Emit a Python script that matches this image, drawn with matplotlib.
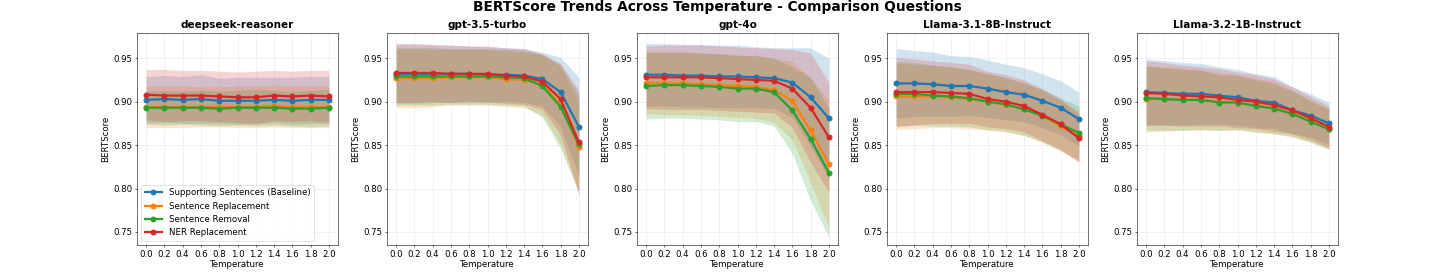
import numpy as np
import matplotlib
matplotlib.use("Agg")
import matplotlib.pyplot as plt

temps = [0.0, 0.2, 0.4, 0.6, 0.8, 1.0, 1.2, 1.4, 1.6, 1.8, 2.0]
models = ["deepseek-reasoner", "gpt-3.5-turbo", "gpt-4o",
          "Llama-3.1-8B-Instruct", "Llama-3.2-1B-Instruct"]
series = ["Supporting Sentences (Baseline)", "Sentence Replacement",
          "Sentence Removal", "NER Replacement"]
colors = ["#1f77b4", "#ff7f0e", "#2ca02c", "#d62728"]

# mean BERTScore per model -> per series
means = {
    "deepseek-reasoner": [
        [0.902, 0.903, 0.902, 0.903, 0.901, 0.901, 0.901, 0.902, 0.901, 0.902, 0.902],
        [0.894, 0.894, 0.894, 0.894, 0.894, 0.894, 0.894, 0.895, 0.894, 0.894, 0.894],
        [0.893, 0.893, 0.893, 0.893, 0.892, 0.893, 0.893, 0.893, 0.892, 0.892, 0.893],
        [0.908, 0.907, 0.907, 0.907, 0.906, 0.905, 0.905, 0.907, 0.906, 0.907, 0.906],
    ],
    "gpt-3.5-turbo": [
        [0.932, 0.932, 0.932, 0.932, 0.932, 0.931, 0.931, 0.930, 0.926, 0.911, 0.871],
        [0.927, 0.927, 0.927, 0.928, 0.928, 0.928, 0.926, 0.925, 0.920, 0.896, 0.848],
        [0.929, 0.929, 0.929, 0.929, 0.929, 0.929, 0.928, 0.927, 0.918, 0.894, 0.851],
        [0.933, 0.933, 0.933, 0.932, 0.932, 0.932, 0.930, 0.929, 0.923, 0.903, 0.853],
    ],
    "gpt-4o": [
        [0.931, 0.931, 0.930, 0.930, 0.929, 0.929, 0.928, 0.927, 0.922, 0.905, 0.881],
        [0.922, 0.921, 0.921, 0.920, 0.919, 0.918, 0.917, 0.913, 0.901, 0.867, 0.828],
        [0.918, 0.919, 0.919, 0.918, 0.917, 0.915, 0.915, 0.911, 0.890, 0.857, 0.818],
        [0.928, 0.928, 0.928, 0.928, 0.927, 0.926, 0.925, 0.924, 0.915, 0.893, 0.859],
    ],
    "Llama-3.1-8B-Instruct": [
        [0.921, 0.921, 0.920, 0.918, 0.918, 0.915, 0.911, 0.908, 0.901, 0.893, 0.880],
        [0.906, 0.906, 0.906, 0.905, 0.903, 0.900, 0.896, 0.892, 0.883, 0.872, 0.860],
        [0.909, 0.909, 0.907, 0.906, 0.904, 0.900, 0.897, 0.891, 0.884, 0.874, 0.864],
        [0.911, 0.911, 0.911, 0.910, 0.909, 0.903, 0.900, 0.895, 0.885, 0.874, 0.858],
    ],
    "Llama-3.2-1B-Instruct": [
        [0.911, 0.910, 0.909, 0.909, 0.907, 0.905, 0.901, 0.899, 0.890, 0.884, 0.875],
        [0.903, 0.903, 0.903, 0.902, 0.900, 0.899, 0.896, 0.893, 0.886, 0.878, 0.869],
        [0.904, 0.903, 0.902, 0.902, 0.899, 0.899, 0.895, 0.892, 0.886, 0.877, 0.868],
        [0.910, 0.909, 0.907, 0.906, 0.905, 0.902, 0.900, 0.896, 0.890, 0.881, 0.871],
    ],
}

# standard deviation (shaded band half-width) per model -> per series
stds = {
    "deepseek-reasoner": [
        [0.027, 0.027, 0.027, 0.028, 0.026, 0.027, 0.027, 0.026, 0.027, 0.027, 0.027],
        [0.024, 0.024, 0.024, 0.023, 0.023, 0.024, 0.024, 0.024, 0.024, 0.024, 0.024],
        [0.019, 0.020, 0.019, 0.020, 0.020, 0.020, 0.021, 0.020, 0.020, 0.021, 0.021],
        [0.029, 0.030, 0.029, 0.029, 0.029, 0.029, 0.030, 0.029, 0.029, 0.029, 0.030],
    ],
    "gpt-3.5-turbo": [
        [0.034, 0.034, 0.033, 0.033, 0.032, 0.032, 0.031, 0.031, 0.031, 0.040, 0.057],
        [0.034, 0.034, 0.033, 0.032, 0.032, 0.032, 0.032, 0.032, 0.035, 0.045, 0.052],
        [0.033, 0.033, 0.033, 0.032, 0.032, 0.032, 0.032, 0.032, 0.036, 0.048, 0.057],
        [0.034, 0.034, 0.033, 0.033, 0.032, 0.032, 0.032, 0.032, 0.032, 0.041, 0.060],
    ],
    "gpt-4o": [
        [0.036, 0.036, 0.036, 0.036, 0.036, 0.036, 0.035, 0.035, 0.040, 0.057, 0.069],
        [0.036, 0.036, 0.036, 0.036, 0.036, 0.036, 0.036, 0.037, 0.045, 0.060, 0.074],
        [0.038, 0.038, 0.038, 0.038, 0.038, 0.038, 0.038, 0.039, 0.050, 0.071, 0.074],
        [0.036, 0.037, 0.037, 0.037, 0.037, 0.037, 0.037, 0.037, 0.045, 0.063, 0.063],
    ],
    "Llama-3.1-8B-Instruct": [
        [0.040, 0.038, 0.037, 0.035, 0.034, 0.033, 0.032, 0.031, 0.031, 0.031, 0.031],
        [0.038, 0.037, 0.036, 0.035, 0.034, 0.033, 0.031, 0.031, 0.030, 0.029, 0.029],
        [0.037, 0.036, 0.035, 0.034, 0.033, 0.032, 0.031, 0.030, 0.030, 0.030, 0.031],
        [0.040, 0.038, 0.036, 0.035, 0.034, 0.032, 0.031, 0.030, 0.030, 0.029, 0.028],
    ],
    "Llama-3.2-1B-Instruct": [
        [0.038, 0.037, 0.036, 0.035, 0.033, 0.032, 0.031, 0.030, 0.027, 0.025, 0.024],
        [0.038, 0.037, 0.036, 0.035, 0.033, 0.032, 0.031, 0.030, 0.027, 0.024, 0.023],
        [0.037, 0.036, 0.035, 0.034, 0.032, 0.031, 0.030, 0.029, 0.026, 0.024, 0.023],
        [0.037, 0.036, 0.035, 0.034, 0.033, 0.032, 0.031, 0.030, 0.027, 0.025, 0.024],
    ],
}

DPI = 50
S = 1.24
plt.rcParams["font.size"] = 10 * S
fig = plt.figure(figsize=(1435 / DPI, 279 / DPI), dpi=DPI)

left0 = 137 / 1435
step = 250 / 1435
width = 201 / 1435
bottom = 1 - 245 / 279
height = (245 - 33) / 279

for i, model in enumerate(models):
    ax = fig.add_axes([left0 + i * step, bottom, width, height])
    t = np.array(temps)
    for j, name in enumerate(series):
        m = np.array(means[model][j])
        s = np.array(stds[model][j])
        ax.plot(t, m, marker="o", color=colors[j], linewidth=3.2, markersize=7.5,
                label=name)
        ax.fill_between(t, m - s, m + s, color=colors[j], alpha=0.2, linewidth=0)
    ax.set_title(model, fontweight="bold", fontsize=12 * S, pad=6 * S)
    ax.set_xlabel("Temperature", fontsize=10 * S, labelpad=2)
    ax.set_ylabel("BERTScore", fontsize=10 * S)
    ax.set_xticks(temps)
    ax.set_xticklabels([f"{v:.1f}" for v in temps])
    ax.tick_params(labelsize=10 * S)
    ax.set_ylim(0.735, 0.979)
    ax.set_yticks([0.75, 0.80, 0.85, 0.90, 0.95])
    ax.grid(True, alpha=0.3)
    if i == 0:
        ax.legend(loc="lower left", fontsize=10 * S)

fig.suptitle("BERTScore Trends Across Temperature - Comparison Questions",
             fontsize=16 * S, fontweight="bold", y=1.0, va="top")
fig.savefig("out.png", dpi=DPI)
